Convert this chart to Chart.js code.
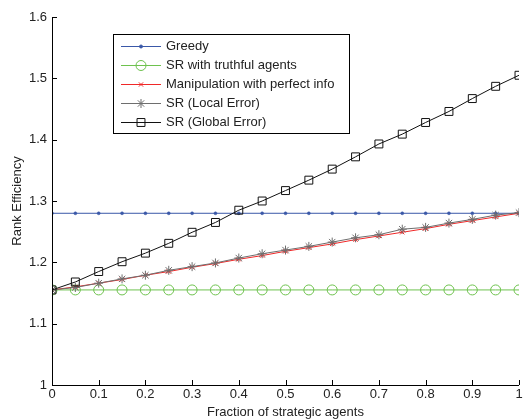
<!DOCTYPE html>
<html>
<head>
<meta charset="utf-8">
<script src="https://cdn.jsdelivr.net/npm/chart.js@4"></script>
<style>
  body { margin: 0; background: #fff; }
  #wrap { width: 527px; height: 420px; }
</style>
</head>
<body>
<div id="wrap"><canvas id="effChart" width="527" height="420"></canvas></div>
<script>
const fractions = [0, 0.05, 0.1, 0.15, 0.2, 0.25, 0.3, 0.35, 0.4, 0.45, 0.5,
  0.55, 0.6, 0.65, 0.7, 0.75, 0.8, 0.85, 0.9, 0.95, 1];

const greedy = [1.28, 1.28, 1.28, 1.28, 1.28, 1.28, 1.28, 1.28, 1.28, 1.28, 1.28,
  1.28, 1.28, 1.28, 1.28, 1.28, 1.28, 1.28, 1.28, 1.28, 1.28];
const truthful = [1.155, 1.155, 1.155, 1.155, 1.155, 1.155, 1.155, 1.155, 1.155, 1.155, 1.155,
  1.155, 1.155, 1.155, 1.155, 1.155, 1.155, 1.155, 1.155, 1.155, 1.155];
const perfectInfo = [1.155, 1.160, 1.166, 1.172, 1.179, 1.185, 1.192, 1.198, 1.205, 1.211, 1.218,
  1.224, 1.230, 1.237, 1.243, 1.249, 1.255, 1.262, 1.268, 1.274, 1.280];
const localError = [1.155, 1.159, 1.166, 1.173, 1.179, 1.187, 1.193, 1.199, 1.207, 1.214, 1.220,
  1.226, 1.233, 1.240, 1.245, 1.254, 1.257, 1.264, 1.270, 1.277, 1.281];
const globalError = [1.155, 1.168, 1.185, 1.201, 1.215, 1.231, 1.249, 1.265, 1.285, 1.300, 1.317,
  1.334, 1.352, 1.372, 1.393, 1.409, 1.428, 1.446, 1.467, 1.487, 1.505];

const xTicks = [0, 0.1, 0.2, 0.3, 0.4, 0.5, 0.6, 0.7, 0.8, 0.9, 1];
const yTicks = [1, 1.1, 1.2, 1.3, 1.4, 1.5, 1.6];

const FONT = "'Liberation Sans', Arial, Helvetica, sans-serif";
const TEXT = "#222";

function pts(vals) {
  return fractions.map((x, i) => ({ x: x, y: vals[i] }));
}

// inward ticks + axis lines, MATLAB style
const axesPlugin = {
  id: "matlabAxes",
  afterDatasetsDraw(chart) {
    const { ctx, chartArea: a, scales: { x, y } } = chart;
    ctx.save();
    ctx.strokeStyle = "#000";
    ctx.lineWidth = 1;
    ctx.beginPath();
    ctx.moveTo(a.left + 0.5, a.top);
    ctx.lineTo(a.left + 0.5, a.bottom + 0.5);
    ctx.lineTo(a.right, a.bottom + 0.5);
    xTicks.forEach(v => {
      const px = Math.round(x.getPixelForValue(v)) + 0.5;
      ctx.moveTo(px, a.bottom);
      ctx.lineTo(px, a.bottom - 5);
    });
    yTicks.forEach(v => {
      const py = Math.round(y.getPixelForValue(v)) + 0.5;
      ctx.moveTo(a.left, py);
      ctx.lineTo(a.left + 5, py);
    });
    ctx.stroke();
    ctx.restore();
  },
};

// boxed legend inside the plot
const legendPlugin = {
  id: "boxLegend",
  afterDraw(chart) {
    const { ctx, chartArea: a } = chart;
    const left = a.left + 61, top = a.top + 17;
    const w = 236, h = 99, rowH = 19;
    ctx.save();
    ctx.fillStyle = "#fff";
    ctx.fillRect(left, top, w, h);
    ctx.strokeStyle = "#000";
    ctx.lineWidth = 1;
    ctx.strokeRect(left + 0.5, top + 0.5, w, h);
    ctx.font = "13px " + FONT;
    ctx.textBaseline = "middle";
    chart.data.datasets.forEach((ds, i) => {
      const cy = Math.round(top + 12 + i * rowH) + 0.5;
      ctx.strokeStyle = ds.borderColor;
      ctx.fillStyle = ds.backgroundColor;
      ctx.lineWidth = 1;
      ctx.beginPath();
      ctx.moveTo(left + 8, cy);
      ctx.lineTo(left + 48, cy);
      ctx.stroke();
      Chart.helpers.drawPoint(ctx, {
        pointStyle: ds.pointStyle,
        radius: ds.pointRadius,
        borderWidth: 1,
      }, left + 28, cy);
      ctx.fillStyle = TEXT;
      ctx.fillText(ds.label, left + 53, cy);
    });
    ctx.restore();
  },
};

const ctx = document.getElementById("effChart").getContext("2d");
new Chart(ctx, {
  type: "line",
  data: {
    datasets: [
      {
        label: "Greedy",
        data: pts(greedy),
        borderColor: "#3a58a8",
        backgroundColor: "#3a58a8",
        pointStyle: "circle",
        pointRadius: 1.5,
        pointBorderWidth: 0.5,
        borderWidth: 1,
        order: 5,
      },
      {
        label: "SR with truthful agents",
        data: pts(truthful),
        borderColor: "#6ec24e",
        backgroundColor: "rgba(0,0,0,0)",
        pointStyle: "circle",
        pointRadius: 5,
        pointBorderWidth: 1,
        borderWidth: 1,
        order: 4,
      },
      {
        label: "Manipulation with perfect info",
        data: pts(perfectInfo),
        borderColor: "#f02828",
        backgroundColor: "#f02828",
        pointStyle: "crossRot",
        pointRadius: 3,
        pointBorderWidth: 1,
        borderWidth: 1,
        order: 3,
      },
      {
        label: "SR (Local Error)",
        data: pts(localError),
        borderColor: "#6e6e6e",
        backgroundColor: "#6e6e6e",
        pointStyle: "star",
        pointRadius: 4.5,
        pointBorderWidth: 1,
        borderWidth: 1,
        order: 2,
      },
      {
        label: "SR (Global Error)",
        data: pts(globalError),
        borderColor: "#111",
        backgroundColor: "rgba(0,0,0,0)",
        pointStyle: "rect",
        pointRadius: 5.6,
        pointBorderWidth: 1,
        borderWidth: 1,
        order: 1,
      },
    ],
  },
  options: {
    responsive: false,
    animation: false,
    layout: { padding: { top: 17, right: 8, left: 0, bottom: 0 } },
    plugins: {
      legend: { display: false },
      tooltip: { enabled: false },
    },
    elements: { line: { tension: 0 } },
    scales: {
      x: {
        type: "linear",
        min: 0,
        max: 1,
        grid: { display: false, drawTicks: false },
        border: { display: false },
        afterBuildTicks: s => { s.ticks = xTicks.map(v => ({ value: v })); },
        afterFit: s => { s.height = 35; },
        ticks: {
          color: TEXT,
          padding: 2,
          maxRotation: 0,
          font: { family: FONT, size: 13 },
          callback: v => String(v),
        },
        title: {
          display: true,
          text: "Fraction of strategic agents",
          color: TEXT,
          font: { family: FONT, size: 13 },
          padding: { top: 0, bottom: 0 },
        },
      },
      y: {
        type: "linear",
        min: 1,
        max: 1.6,
        grid: { display: false, drawTicks: false },
        border: { display: false },
        afterBuildTicks: s => { s.ticks = yTicks.map(v => ({ value: v })); },
        afterFit: s => { s.width = 52; },
        ticks: {
          color: TEXT,
          padding: 5,
          font: { family: FONT, size: 13 },
          callback: v => String(v),
        },
        title: {
          display: true,
          text: "Rank Efficiency",
          color: TEXT,
          font: { family: FONT, size: 13 },
          padding: { top: 10, bottom: 0 },
        },
      },
    },
  },
  plugins: [axesPlugin, legendPlugin],
});
</script>
</body>
</html>
